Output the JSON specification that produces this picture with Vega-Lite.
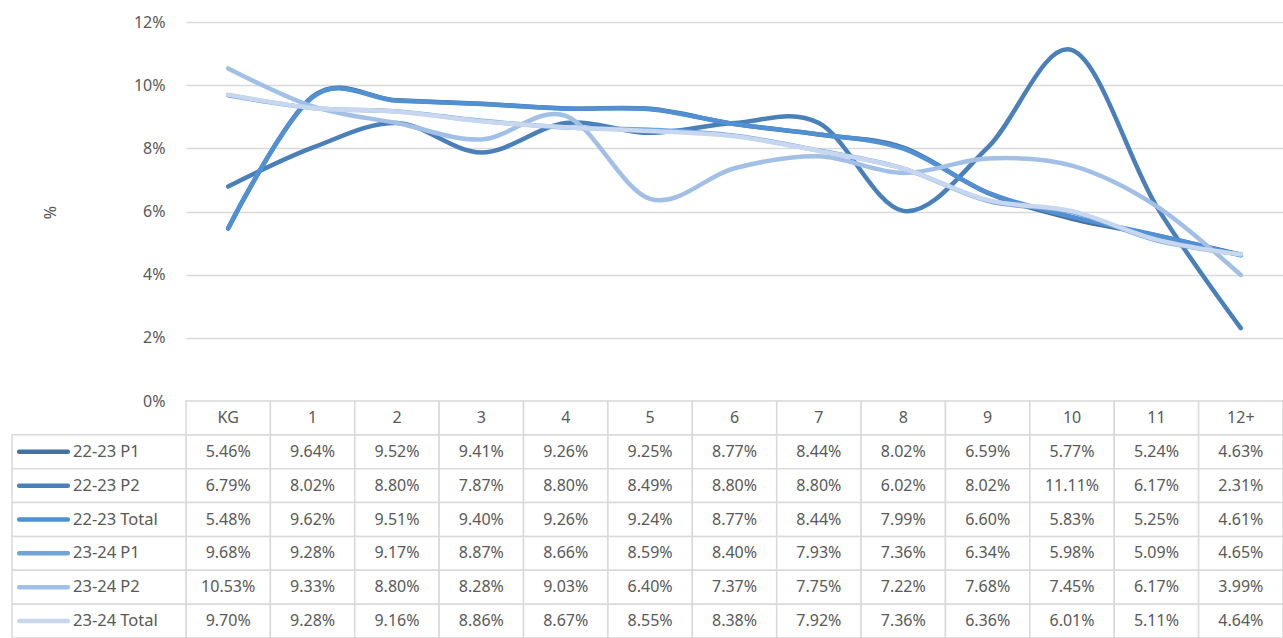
{
  "$schema": "https://vega.github.io/schema/vega-lite/v6.json",
  "width": 1097,
  "height": 616,
  "autosize": {"type": "none"},
  "padding": {"left": 186, "top": 22, "right": 0, "bottom": 0},
  "background": "white",
  "config": {
    "view": {"stroke": null},
    "font": "Noto Sans",
    "text": {"font": "Noto Sans", "fontSize": 16, "color": "#595959"}
  },
  "datasets": {
    "grades": [
      {"grade": "KG"}, {"grade": "1"}, {"grade": "2"}, {"grade": "3"}, {"grade": "4"}, {"grade": "5"}, {"grade": "6"},
      {"grade": "7"}, {"grade": "8"}, {"grade": "9"}, {"grade": "10"}, {"grade": "11"}, {"grade": "12+"}
    ],
    "series": [
      {"series": "22-23 P1"}, {"series": "22-23 P2"}, {"series": "22-23 Total"},
      {"series": "23-24 P1"}, {"series": "23-24 P2"}, {"series": "23-24 Total"}
    ],
    "vals": [
      {"series": "22-23 P1", "grade": "KG", "value": 0.0546},
      {"series": "22-23 P1", "grade": "1", "value": 0.0964},
      {"series": "22-23 P1", "grade": "2", "value": 0.0952},
      {"series": "22-23 P1", "grade": "3", "value": 0.0941},
      {"series": "22-23 P1", "grade": "4", "value": 0.0926},
      {"series": "22-23 P1", "grade": "5", "value": 0.0925},
      {"series": "22-23 P1", "grade": "6", "value": 0.0877},
      {"series": "22-23 P1", "grade": "7", "value": 0.0844},
      {"series": "22-23 P1", "grade": "8", "value": 0.0802},
      {"series": "22-23 P1", "grade": "9", "value": 0.0659},
      {"series": "22-23 P1", "grade": "10", "value": 0.0577},
      {"series": "22-23 P1", "grade": "11", "value": 0.0524},
      {"series": "22-23 P1", "grade": "12+", "value": 0.0463},
      {"series": "22-23 P2", "grade": "KG", "value": 0.0679},
      {"series": "22-23 P2", "grade": "1", "value": 0.0802},
      {"series": "22-23 P2", "grade": "2", "value": 0.0880},
      {"series": "22-23 P2", "grade": "3", "value": 0.0787},
      {"series": "22-23 P2", "grade": "4", "value": 0.0880},
      {"series": "22-23 P2", "grade": "5", "value": 0.0849},
      {"series": "22-23 P2", "grade": "6", "value": 0.0880},
      {"series": "22-23 P2", "grade": "7", "value": 0.0880},
      {"series": "22-23 P2", "grade": "8", "value": 0.0602},
      {"series": "22-23 P2", "grade": "9", "value": 0.0802},
      {"series": "22-23 P2", "grade": "10", "value": 0.1111},
      {"series": "22-23 P2", "grade": "11", "value": 0.0617},
      {"series": "22-23 P2", "grade": "12+", "value": 0.0231},
      {"series": "22-23 Total", "grade": "KG", "value": 0.0548},
      {"series": "22-23 Total", "grade": "1", "value": 0.0962},
      {"series": "22-23 Total", "grade": "2", "value": 0.0951},
      {"series": "22-23 Total", "grade": "3", "value": 0.0940},
      {"series": "22-23 Total", "grade": "4", "value": 0.0926},
      {"series": "22-23 Total", "grade": "5", "value": 0.0924},
      {"series": "22-23 Total", "grade": "6", "value": 0.0877},
      {"series": "22-23 Total", "grade": "7", "value": 0.0844},
      {"series": "22-23 Total", "grade": "8", "value": 0.0799},
      {"series": "22-23 Total", "grade": "9", "value": 0.0660},
      {"series": "22-23 Total", "grade": "10", "value": 0.0583},
      {"series": "22-23 Total", "grade": "11", "value": 0.0525},
      {"series": "22-23 Total", "grade": "12+", "value": 0.0461},
      {"series": "23-24 P1", "grade": "KG", "value": 0.0968},
      {"series": "23-24 P1", "grade": "1", "value": 0.0928},
      {"series": "23-24 P1", "grade": "2", "value": 0.0917},
      {"series": "23-24 P1", "grade": "3", "value": 0.0887},
      {"series": "23-24 P1", "grade": "4", "value": 0.0866},
      {"series": "23-24 P1", "grade": "5", "value": 0.0859},
      {"series": "23-24 P1", "grade": "6", "value": 0.0840},
      {"series": "23-24 P1", "grade": "7", "value": 0.0793},
      {"series": "23-24 P1", "grade": "8", "value": 0.0736},
      {"series": "23-24 P1", "grade": "9", "value": 0.0634},
      {"series": "23-24 P1", "grade": "10", "value": 0.0598},
      {"series": "23-24 P1", "grade": "11", "value": 0.0509},
      {"series": "23-24 P1", "grade": "12+", "value": 0.0465},
      {"series": "23-24 P2", "grade": "KG", "value": 0.1053},
      {"series": "23-24 P2", "grade": "1", "value": 0.0933},
      {"series": "23-24 P2", "grade": "2", "value": 0.0880},
      {"series": "23-24 P2", "grade": "3", "value": 0.0828},
      {"series": "23-24 P2", "grade": "4", "value": 0.0903},
      {"series": "23-24 P2", "grade": "5", "value": 0.0640},
      {"series": "23-24 P2", "grade": "6", "value": 0.0737},
      {"series": "23-24 P2", "grade": "7", "value": 0.0775},
      {"series": "23-24 P2", "grade": "8", "value": 0.0722},
      {"series": "23-24 P2", "grade": "9", "value": 0.0768},
      {"series": "23-24 P2", "grade": "10", "value": 0.0745},
      {"series": "23-24 P2", "grade": "11", "value": 0.0617},
      {"series": "23-24 P2", "grade": "12+", "value": 0.0399},
      {"series": "23-24 Total", "grade": "KG", "value": 0.0970},
      {"series": "23-24 Total", "grade": "1", "value": 0.0928},
      {"series": "23-24 Total", "grade": "2", "value": 0.0916},
      {"series": "23-24 Total", "grade": "3", "value": 0.0886},
      {"series": "23-24 Total", "grade": "4", "value": 0.0867},
      {"series": "23-24 Total", "grade": "5", "value": 0.0855},
      {"series": "23-24 Total", "grade": "6", "value": 0.0838},
      {"series": "23-24 Total", "grade": "7", "value": 0.0792},
      {"series": "23-24 Total", "grade": "8", "value": 0.0736},
      {"series": "23-24 Total", "grade": "9", "value": 0.0636},
      {"series": "23-24 Total", "grade": "10", "value": 0.0601},
      {"series": "23-24 Total", "grade": "11", "value": 0.0511},
      {"series": "23-24 Total", "grade": "12+", "value": 0.0464}
    ]
  },
  "resolve": {"scale": {"x": "independent", "y": "independent"}},
  "layer": [
    {
      "data": {"name": "vals"},
      "mark": {"type": "line", "interpolate": "cardinal", "tension": 0, "strokeWidth": 4.5, "strokeCap": "round", "strokeJoin": "round"},
      "encoding": {
        "x": {
          "field": "grade", "type": "nominal",
          "scale": {"type": "point", "padding": 0.5, "domain": ["KG", "1", "2", "3", "4", "5", "6", "7", "8", "9", "10", "11", "12+"]},
          "axis": null
        },
        "y": {
          "field": "value", "type": "quantitative",
          "scale": {"domain": [0, 0.12], "range": [379, 0], "nice": false, "zero": true},
          "axis": {
            "title": "%", "values": [0, 0.02, 0.04, 0.06, 0.08, 0.1, 0.12], "format": ".0%",
            "domain": false, "ticks": false, "grid": true, "gridColor": "#d9d9d9", "gridWidth": 1.3,
            "labelFont": "Noto Sans", "labelFontSize": 16, "labelColor": "#595959", "labelPadding": 21,
            "titleFont": "Noto Sans", "titleFontSize": 16, "titleColor": "#595959", "titleFontWeight": "normal",
            "titleAngle": 270, "titleAlign": "center", "titleBaseline": "middle", "titleX": -136, "titleY": 190
          }
        },
        "color": {
          "field": "series", "type": "nominal",
          "scale": {
            "domain": ["22-23 P1", "22-23 P2", "22-23 Total", "23-24 P1", "23-24 P2", "23-24 Total"],
            "range": ["#44729e", "#4a80ba", "#5190d2", "#73a3dc", "#a2c0e6", "#c7d7ef"]
          },
          "legend": null
        }
      }
    },
    {
      "resolve": {"scale": {"x": "independent"}},
      "layer": [
        {
          "layer": [
            {
              "data": {"name": "vals"},
              "mark": {"type": "rect", "fill": "white", "stroke": "#d9d9d9", "strokeWidth": 1.5},
              "encoding": {
                "x": {"field": "grade", "type": "nominal", "scale": {"type": "band", "paddingInner": 0, "paddingOuter": 0, "domain": ["KG", "1", "2", "3", "4", "5", "6", "7", "8", "9", "10", "11", "12+"]}, "axis": null},
                "y": {"field": "series", "type": "nominal", "scale": {"type": "band", "paddingInner": 0, "paddingOuter": 0, "range": [379, 616], "domain": ["hdr", "22-23 P1", "22-23 P2", "22-23 Total", "23-24 P1", "23-24 P2", "23-24 Total"]}, "axis": null}
              }
            },
            {
              "data": {"name": "grades"},
              "mark": {"type": "rect", "fill": "white", "stroke": "#d9d9d9", "strokeWidth": 1.5},
              "encoding": {
                "x": {"field": "grade", "type": "nominal"},
                "y": {"datum": "hdr", "type": "nominal"}
              }
            },
            {
              "data": {"name": "vals"},
              "mark": {"type": "text", "align": "center", "baseline": "middle", "fontSize": 16, "color": "#595959"},
              "encoding": {
                "x": {"field": "grade", "type": "nominal"},
                "y": {"field": "series", "type": "nominal"},
                "text": {"field": "value", "type": "quantitative", "format": ".2%"}
              }
            },
            {
              "data": {"name": "grades"},
              "mark": {"type": "text", "align": "center", "baseline": "middle", "fontSize": 16, "color": "#595959"},
              "encoding": {
                "x": {"field": "grade", "type": "nominal"},
                "y": {"datum": "hdr", "type": "nominal"},
                "text": {"field": "grade", "type": "nominal"}
              }
            }
          ]
        },
        {
          "resolve": {"scale": {"x": "independent"}},
          "layer": [
            {
              "data": {"name": "series"},
              "mark": {"type": "rect", "fill": "white", "stroke": "#d9d9d9", "strokeWidth": 1.5},
              "encoding": {
                "x": {"datum": "leg", "type": "nominal", "scale": {"type": "band", "domain": ["leg"], "range": [-174, 0], "paddingInner": 0, "paddingOuter": 0}, "axis": null},
                "y": {"field": "series", "type": "nominal"}
              }
            },
            {
              "data": {"name": "series"},
              "mark": {"type": "tick", "orient": "horizontal", "size": 53, "thickness": 4.5, "cornerRadius": 2, "opacity": 1},
              "encoding": {
                "x": {"datum": "sw", "type": "nominal", "scale": {"type": "point", "domain": ["sw"], "range": [-169, -116], "padding": 0.5}, "axis": null},
                "y": {"field": "series", "type": "nominal"},
                "color": {"field": "series", "type": "nominal", "legend": null}
              }
            },
            {
              "data": {"name": "series"},
              "mark": {"type": "text", "align": "left", "baseline": "middle", "fontSize": 16.5, "color": "#595959"},
              "encoding": {
                "x": {"datum": "lab", "type": "nominal", "scale": {"type": "point", "domain": ["lab"], "range": [-113, -113], "padding": 0}, "axis": null},
                "y": {"field": "series", "type": "nominal"},
                "text": {"field": "series", "type": "nominal"}
              }
            }
          ]
        }
      ]
    }
  ]
}
